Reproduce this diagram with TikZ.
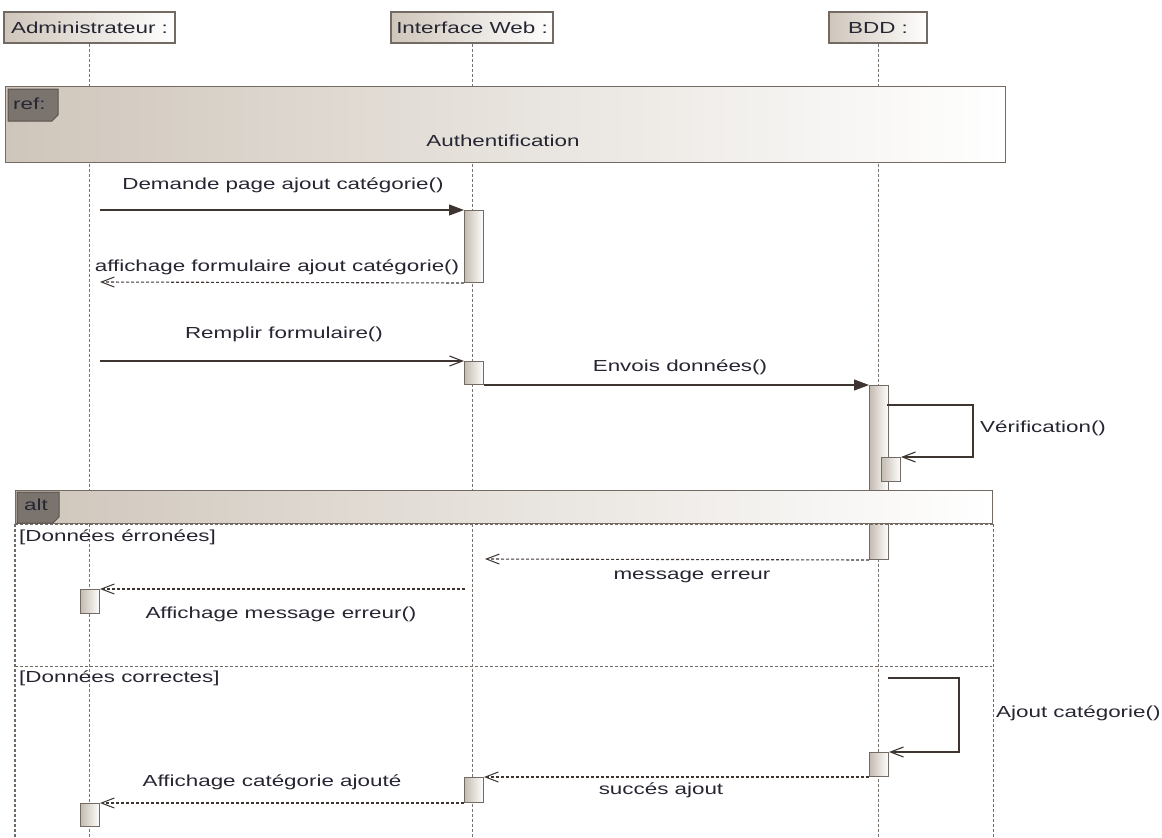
\documentclass[tikz,border=0pt]{standalone}
\usepackage{fontspec}
\setmainfont[FakeStretch=1.4]{Liberation Sans}
\usetikzlibrary{arrows.meta}

\definecolor{txt}{HTML}{262633}
\definecolor{frm}{HTML}{746a64}
\definecolor{life}{HTML}{7a726c}
\definecolor{msg}{HTML}{3e3531}
\definecolor{shadeL}{HTML}{cfc6bb}
\definecolor{actL}{HTML}{c4bbb0}
\definecolor{tabfill}{HTML}{7b746e}
\definecolor{tabline}{HTML}{5a524c}

\begin{document}
\begin{tikzpicture}[x=1pt,y=-1pt,
  every node/.style={font=\fontsize{16}{19}\selectfont, text=txt},
  lifehead/.style={draw=frm, line width=1.2pt, left color=shadeL, right color=white,
    minimum height=31pt, inner sep=0pt},
  lifeline/.style={draw=life, line width=1pt, dash pattern=on 3pt off 2pt},
  actbox/.style={draw=frm, line width=1pt, left color=actL, right color=white,
    minimum width=19pt, inner sep=0pt, anchor=north west},
  band/.style={draw=frm, line width=1.3pt, left color=shadeL, right color=white,
    inner sep=0pt, anchor=north west},
  tab/.style={fill=tabfill, draw=tabline, line width=1pt},
  opdiv/.style={draw=frm, line width=1pt, dash pattern=on 3pt off 2pt},
  call/.style={draw=msg, line width=1.1pt, -{Triangle[length=15pt,width=11pt]}},
  async/.style={draw=msg, line width=1.1pt, -{Straight Barb[length=13pt,width=10pt]}},
  reply/.style={draw=msg, line width=1.1pt, dash pattern=on 3pt off 2pt,
    -{Straight Barb[length=13pt,width=10pt,line width=1pt]}},
  lbl/.style={inner sep=0pt},
]
\useasboundingbox (0,0) rectangle (1162,838);
\coordinate (bottom) at (0,838);

% participants
\node[lifehead, minimum width=171pt] (adm) at (89.5,27.5) {Administrateur :};
\node[lifehead, minimum width=162pt] (web) at (472,27.5) {Interface Web :};
\node[lifehead, minimum width=98pt] (bdd) at (878,27.5) {BDD :};

% lifelines
\draw[lifeline] (adm.south) -- (adm.south |- bottom);
\draw[lifeline] (web.south) -- (web.south |- bottom);
\draw[lifeline] (bdd.south) -- (bdd.south |- bottom);

% interaction use: Authentification
\node[band, minimum width=1000pt, minimum height=76pt] (ref) at (5,86) {};
\filldraw[tab] (8,89) -- (58,89) -- (58,115) -- (52,121) -- (8,121) -- cycle;
\node[lbl, anchor=west] (reftag) at (13,104) {ref:};
\node[lbl] (reftitle) at (503,141) {Authentification};

% activations
\node[actbox, minimum height=72pt] (a1) at (464,210) {};
\node[actbox, minimum height=23pt] (a2) at (464,361) {};
\node[actbox, minimum height=174pt] (b1) at (869,385) {};
\node[actbox, minimum height=24pt] (b2) at (881,457) {};
\node[actbox, minimum height=24pt] (c1) at (80,589) {};
\node[actbox, minimum height=24pt] (b3) at (869,752) {};
\node[actbox, minimum height=25pt] (a3) at (464,777) {};
\node[actbox, minimum height=23pt] (c2) at (80,803) {};

% combined fragment: alt
\node[band, minimum width=977pt, minimum height=33pt] (alt) at (15,490) {};
\filldraw[tab] (17,492) -- (59,492) -- (59,517) -- (53,523) -- (17,523) -- cycle;
\node[lbl, anchor=west] (alttag) at (24,505) {alt};
\draw[opdiv] (alt.south west) -- (alt.south east);
\draw[opdiv, line width=1.6pt] (alt.south west) -- (alt.south west |- bottom);
\draw[opdiv] (alt.south east) -- (alt.south east |- bottom);
\coordinate (sepL) at (15,666);
\coordinate (sepR) at (992,666);
\draw[opdiv] (sepL) -- (sepR);
\node[lbl, anchor=west] (g1) at (19,537) {[Données érronées]};
\node[lbl, anchor=west] (g2) at (19,678) {[Données correctes]};

% messages
\coordinate (m1s) at (100,210);
\draw[call] (m1s) -- (a1.north west);
\node[lbl] at (283,185) {Demande page ajout catégorie()};

\coordinate (m2e) at (100,282);
\draw[reply] (a1.south west) -- (m2e);
\node[lbl] at (277,267) {affichage formulaire ajout catégorie()};

\coordinate (m3s) at (100,361);
\draw[async] (m3s) -- (a2.north west);
\node[lbl] at (284,334) {Remplir formulaire()};

\draw[call] (a2.south east) -- (b1.north west);
\node[lbl] at (680,367) {Envois données()};

\coordinate (v1) at (887,405);
\coordinate (v2) at (973,405);
\coordinate (v3) at (973,457);
\draw[async] (v1) -- (v2) -- (v3) -- (b2.north east);
\node[lbl, anchor=west] at (980,428) {Vérification()};

\coordinate (m6e) at (485,559);
\draw[reply] (b1.south west) -- (m6e);
\node[lbl] at (692,577) {message erreur};

\coordinate (m7s) at (465,589);
\draw[reply] (m7s) -- (c1.north east);
\node[lbl] at (281,614) {Affichage message erreur()};

\coordinate (k1) at (888,678);
\coordinate (k2) at (959,678);
\coordinate (k3) at (959,752);
\draw[async] (k1) -- (k2) -- (k3) -- (b3.north east);
\node[lbl, anchor=west] at (996,713) {Ajout catégorie()};

\draw[reply] (b3.south west) -- (a3.north east);
\node[lbl] at (661,790) {succés ajout};

\draw[reply] (a3.south west) -- (c2.north east);
\node[lbl] at (272,782) {Affichage catégorie ajouté};
\end{tikzpicture}
\end{document}
